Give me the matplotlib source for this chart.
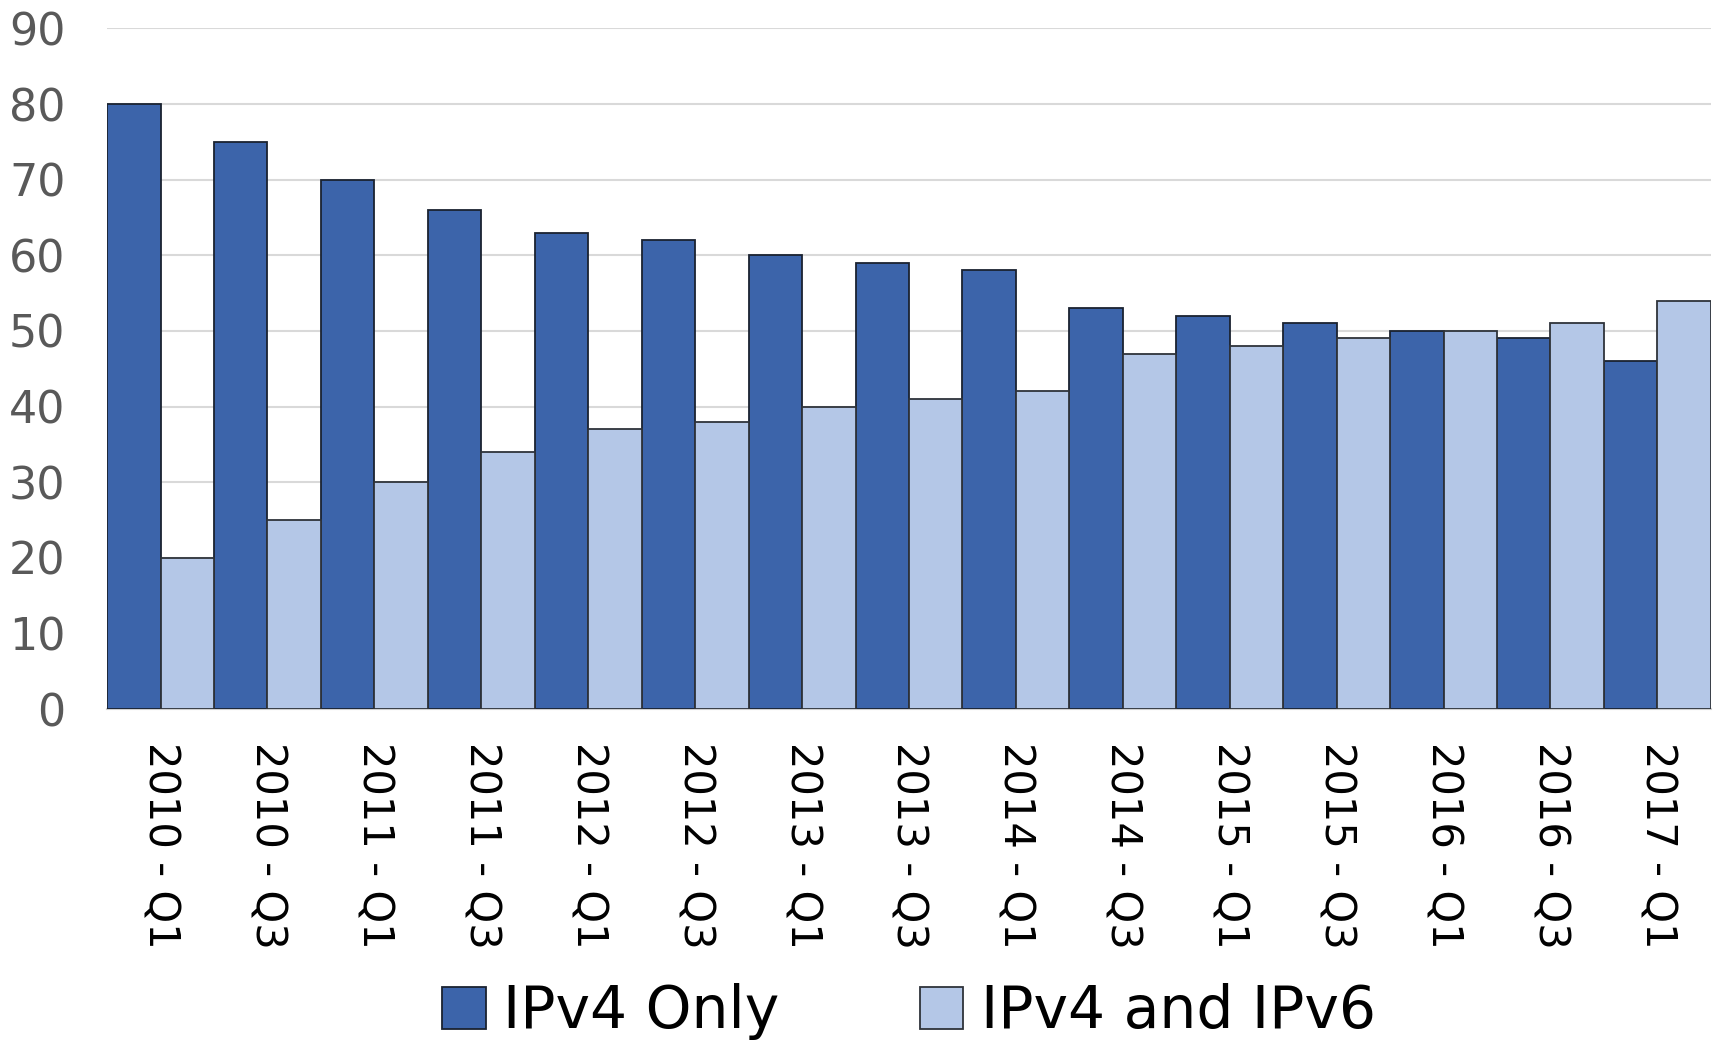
import numpy as np
import matplotlib.pyplot as plt

# survey periods
periods = ['2010 - Q1', '2010 - Q3', '2011 - Q1', '2011 - Q3', '2012 - Q1',
           '2012 - Q3', '2013 - Q1', '2013 - Q3', '2014 - Q1', '2014 - Q3',
           '2015 - Q1', '2015 - Q3', '2016 - Q1', '2016 - Q3', '2017 - Q1']
ipv4_only = [80, 75, 70, 66, 63, 62, 60, 59, 58, 53, 52, 51, 50, 49, 46]
ipv4_ipv6 = [20, 25, 30, 34, 37, 38, 40, 41, 42, 47, 48, 49, 50, 51, 54]

plt.rcParams['font.family'] = ['DejaVu Sans']

fig = plt.figure(figsize=(17.16, 10.51), dpi=100)
ax = fig.add_axes([0.0624, 0.3254, 0.9346, 0.6475])

x = np.arange(len(periods))
w = 0.5
ax.bar(x - w/2, ipv4_only, w, color='#3c64aa', edgecolor='#1a2230', linewidth=1.3,
       label='IPv4 Only', zorder=3)
ax.bar(x + w/2, ipv4_ipv6, w, color='#b4c7e7', edgecolor='#2e333a', linewidth=1.3,
       label='IPv4 and IPv6', zorder=3)

ax.set_xlim(-0.5, len(periods) - 0.5)
ax.set_ylim(0, 90)
ax.set_yticks(range(0, 91, 10))
ax.yaxis.grid(True, color='#d9d9d9', linewidth=1.5, zorder=0)
for s in ['top', 'right', 'left']:
    ax.spines[s].set_visible(False)
ax.spines['bottom'].set_color('#d0d0d0')
ax.spines['bottom'].set_linewidth(1.5)

ax.set_xticks(x)
ax.set_xticklabels(periods, rotation=-90, fontsize=30, color='black')
ax.tick_params(axis='x', length=0, pad=24)
ax.tick_params(axis='y', length=0, pad=30, labelsize=32, labelcolor='#595959')

ax.legend(loc='center', bbox_to_anchor=(0.5, -0.445), ncol=2, frameon=False,
          fontsize=42, handlelength=0.75, handleheight=0.75, handletextpad=0.3,
          columnspacing=2.4)

plt.savefig('out.png', dpi=100)
